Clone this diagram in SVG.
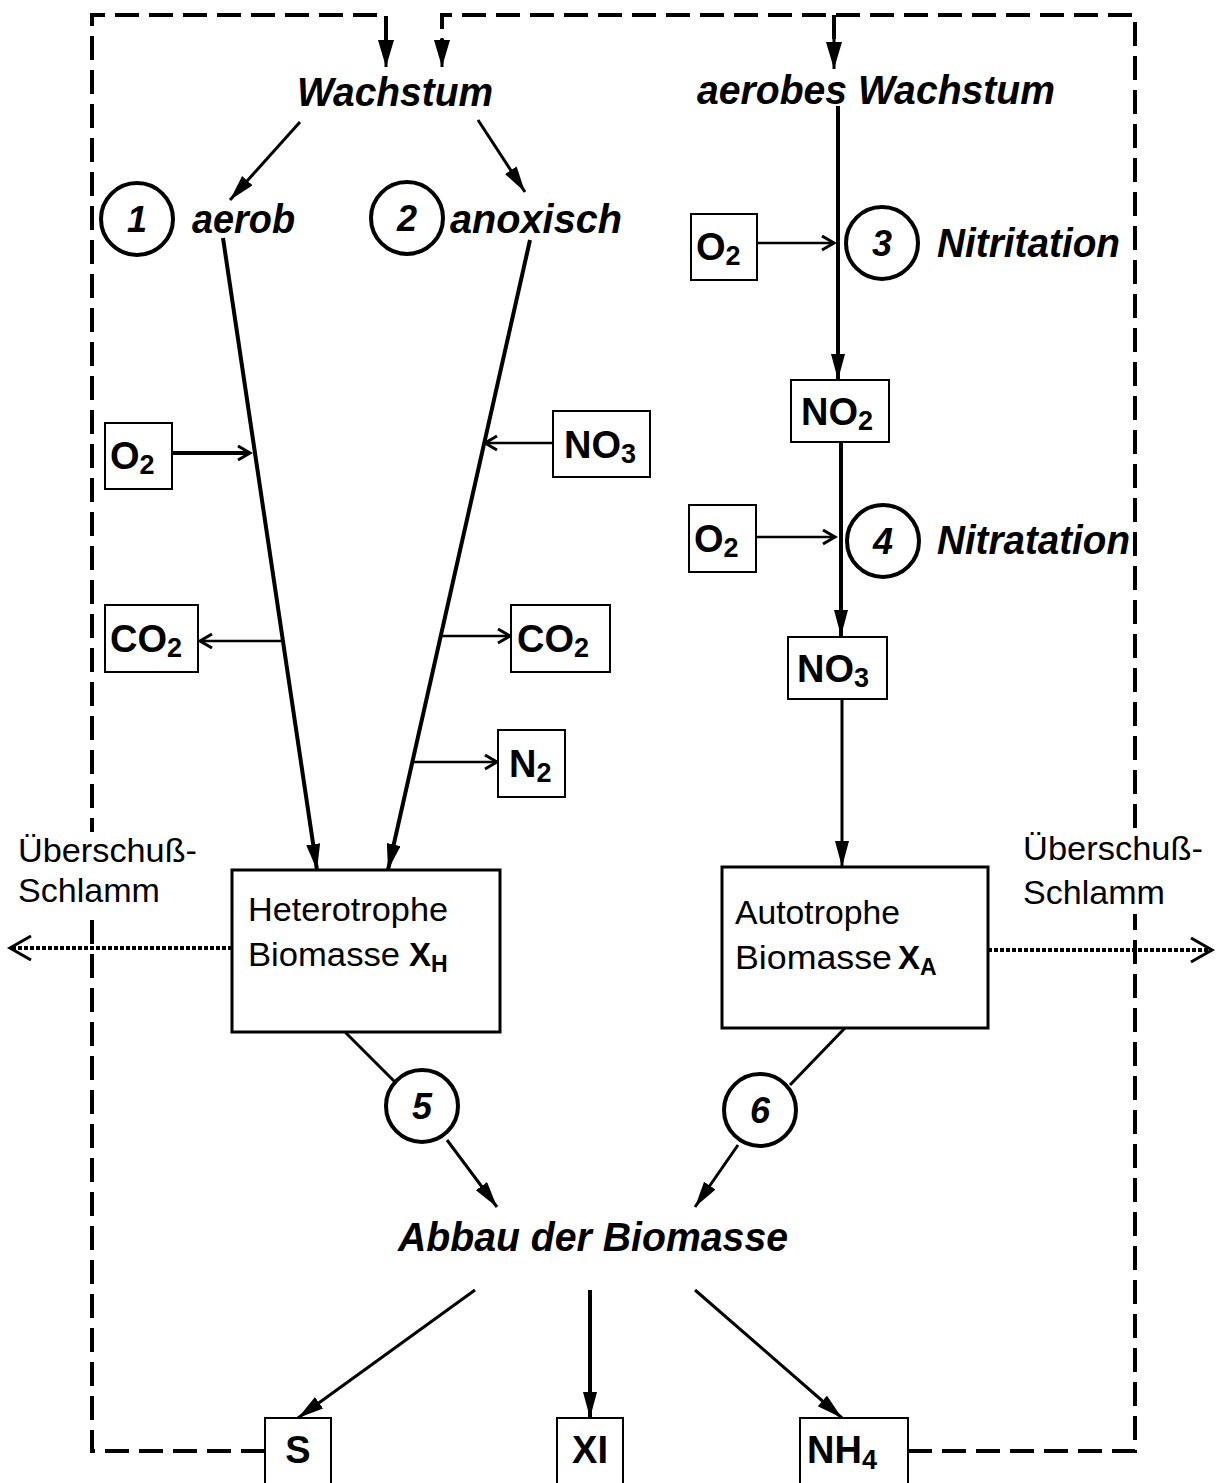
<svg xmlns="http://www.w3.org/2000/svg" width="1218" height="1483" viewBox="0 0 1218 1483">
  <style>
    .bg { fill: #ffffff; }
    .box { fill: #ffffff; stroke: #000; stroke-width: 2; }
    .bigbox { fill: #ffffff; stroke: #000; stroke-width: 3; }
    .circ { fill: #ffffff; stroke: #000; stroke-width: 4; }
    .thick { stroke: #000; stroke-width: 4; fill: none; }
    .mid { stroke: #000; stroke-width: 3; fill: none; }
    .thin { stroke: #000; stroke-width: 2.5; fill: none; }
    .dash { stroke: #000; stroke-width: 4; fill: none; stroke-dasharray: 24 10; }
    .dot { stroke: #000; stroke-width: 4; fill: none; stroke-dasharray: 4 2; }
    .lbl { font-family: "Liberation Sans", Arial, sans-serif; font-weight: bold; font-style: italic; font-size: 41px; fill: #000; }
    .num { font-family: "Liberation Sans", Arial, sans-serif; font-weight: bold; font-style: italic; font-size: 36px; fill: #000; text-anchor: middle; }
    .chem { font-family: "Liberation Sans", Arial, sans-serif; font-weight: bold; font-size: 38px; fill: #000; }
    .sub { font-size: 27px; }
    .reg { font-family: "Liberation Sans", Arial, sans-serif; font-size: 33px; fill: #000; }
    .xb { font-family: "Liberation Sans", Arial, sans-serif; font-weight: bold; font-size: 33px; fill: #000; }
    .xs { font-size: 23px; }
  </style>
  <defs>
    <marker id="solid" markerUnits="userSpaceOnUse" markerWidth="28" markerHeight="16" refX="26" refY="7" orient="auto">
      <path d="M0,0 L26,7 L0,14 z" fill="#000"/>
    </marker>
    <marker id="dhead" markerUnits="userSpaceOnUse" markerWidth="30" markerHeight="18" refX="27" refY="8" orient="auto">
      <path d="M0,0 L27,8 L0,16 z" fill="#000"/>
    </marker>
    <marker id="open" markerUnits="userSpaceOnUse" markerWidth="16" markerHeight="18" refX="13" refY="8" orient="auto">
      <path d="M1,1 L13,8 L1,15" fill="none" stroke="#000" stroke-width="3"/>
    </marker>
    <marker id="openbig" markerUnits="userSpaceOnUse" markerWidth="26" markerHeight="28" refX="22" refY="13" orient="auto">
      <path d="M1,1 L22,13 L1,25" fill="none" stroke="#000" stroke-width="3"/>
    </marker>
  </defs>

  <rect class="bg" x="0" y="0" width="1218" height="1483"/>

  <!-- connectors -->
  <g id="connectors">
    <!-- recycle loops -->
    <path class="dash" d="M265,1451 L92,1451 L92,15 L386,15 L386,40"/>
    <line x1="386" y1="38" x2="386" y2="67" stroke="#000" stroke-width="3" marker-end="url(#dhead)"/>
    <path class="dash" d="M908,1451 L1135,1451 L1135,15 L442,15 L442,40"/>
    <line x1="442" y1="38" x2="442" y2="67" stroke="#000" stroke-width="3" marker-end="url(#dhead)"/>
    <path class="dash" d="M834,15 L834,40"/>
    <line x1="834" y1="38" x2="834" y2="69" stroke="#000" stroke-width="3" marker-end="url(#dhead)"/>

    <!-- growth -->
    <line class="mid" x1="300" y1="122" x2="230" y2="200" marker-end="url(#solid)"/>
    <line class="mid" x1="478" y1="120" x2="525" y2="192" marker-end="url(#solid)"/>
    <line class="thick" x1="223" y1="238" x2="317" y2="870" marker-end="url(#solid)"/>
    <line class="thick" x1="530" y1="240" x2="388" y2="870" marker-end="url(#solid)"/>

    <!-- side flows heterotrophs -->
    <line class="thick" x1="172" y1="453" x2="250" y2="453" marker-end="url(#open)"/>
    <line class="thin" x1="282" y1="641" x2="200" y2="641" marker-end="url(#open)"/>
    <line class="thin" x1="553" y1="443" x2="485" y2="443" marker-end="url(#open)"/>
    <line class="thin" x1="441" y1="636" x2="510" y2="636" marker-end="url(#open)"/>
    <line class="thin" x1="412" y1="762" x2="497" y2="762" marker-end="url(#open)"/>

    <!-- autotrophic chain -->
    <line class="thick" x1="838" y1="106" x2="838" y2="380" marker-end="url(#solid)"/>
    <line class="thick" x1="841" y1="442" x2="841" y2="636" marker-end="url(#solid)"/>
    <line class="mid" x1="842" y1="699" x2="842" y2="867" marker-end="url(#solid)"/>
    <line class="thin" x1="757" y1="243" x2="834" y2="243" marker-end="url(#open)"/>
    <line class="thin" x1="756" y1="537" x2="835" y2="537" marker-end="url(#open)"/>

    <!-- excess sludge -->
    <line class="dot" x1="232" y1="948" x2="10" y2="948" marker-end="url(#openbig)"/>
    <line class="dot" x1="988" y1="950" x2="1212" y2="950" marker-end="url(#openbig)"/>

    <!-- decay -->
    <line class="mid" x1="345" y1="1032" x2="395" y2="1082"/>
    <line class="mid" x1="447" y1="1140" x2="497" y2="1207" marker-end="url(#solid)"/>
    <line class="mid" x1="845" y1="1028" x2="790" y2="1085"/>
    <line class="mid" x1="738" y1="1145" x2="695" y2="1207" marker-end="url(#solid)"/>
    <line class="mid" x1="475" y1="1290" x2="298" y2="1418" marker-end="url(#solid)"/>
    <line class="thick" x1="590" y1="1290" x2="590" y2="1418" marker-end="url(#solid)"/>
    <line class="mid" x1="695" y1="1290" x2="842" y2="1418" marker-end="url(#solid)"/>
  </g>

  <!-- labels -->
  <g id="wachstum"><text class="lbl" x="297" y="106" textLength="196" lengthAdjust="spacingAndGlyphs">Wachstum</text></g>
  <g id="aerobes-wachstum"><text class="lbl" x="697" y="104" textLength="358" lengthAdjust="spacingAndGlyphs">aerobes Wachstum</text></g>

  <g id="p1">
    <circle class="circ" cx="137" cy="219" r="36"/>
    <text class="num" x="137" y="232">1</text>
    <text class="lbl" x="192" y="233" textLength="103" lengthAdjust="spacingAndGlyphs">aerob</text>
  </g>
  <g id="p2">
    <circle class="circ" cx="407" cy="218" r="36"/>
    <text class="num" x="407" y="231">2</text>
    <text class="lbl" x="450" y="233" textLength="172" lengthAdjust="spacingAndGlyphs">anoxisch</text>
  </g>
  <g id="p3">
    <circle class="circ" cx="882" cy="243" r="36"/>
    <text class="num" x="882" y="256">3</text>
    <text class="lbl" x="937" y="257" textLength="183" lengthAdjust="spacingAndGlyphs">Nitritation</text>
  </g>
  <g id="p4">
    <circle class="circ" cx="883" cy="541" r="36"/>
    <text class="num" x="883" y="554">4</text>
    <text class="lbl" x="937" y="554" textLength="193" lengthAdjust="spacingAndGlyphs">Nitratation</text>
  </g>
  <g id="p5">
    <circle class="circ" cx="422" cy="1106" r="36"/>
    <text class="num" x="422" y="1119">5</text>
  </g>
  <g id="p6">
    <circle class="circ" cx="760" cy="1110" r="36"/>
    <text class="num" x="760" y="1123">6</text>
  </g>
  <g id="abbau"><text class="lbl" x="398" y="1251" textLength="390" lengthAdjust="spacingAndGlyphs">Abbau der Biomasse</text></g>

  <!-- substance boxes -->
  <g id="o2-a">
    <rect class="box" x="105" y="423" width="67" height="66"/>
    <text class="chem" x="110" y="469">O<tspan class="sub" dy="5">2</tspan></text>
  </g>
  <g id="co2-a">
    <rect class="box" x="105" y="605" width="93" height="67"/>
    <text class="chem" x="110" y="652">CO<tspan class="sub" dy="5">2</tspan></text>
  </g>
  <g id="no3-a">
    <rect class="box" x="553" y="411" width="97" height="66"/>
    <text class="chem" x="564" y="458">NO<tspan class="sub" dy="5">3</tspan></text>
  </g>
  <g id="co2-b">
    <rect class="box" x="511" y="605" width="99" height="67"/>
    <text class="chem" x="517" y="652">CO<tspan class="sub" dy="5">2</tspan></text>
  </g>
  <g id="n2">
    <rect class="box" x="498" y="730" width="67" height="67"/>
    <text class="chem" x="509" y="777">N<tspan class="sub" dy="5">2</tspan></text>
  </g>
  <g id="o2-b">
    <rect class="box" x="691" y="214" width="66" height="66"/>
    <text class="chem" x="696" y="260">O<tspan class="sub" dy="5">2</tspan></text>
  </g>
  <g id="no2">
    <rect class="box" x="791" y="380" width="98" height="62"/>
    <text class="chem" x="801" y="425">NO<tspan class="sub" dy="5">2</tspan></text>
  </g>
  <g id="o2-c">
    <rect class="box" x="689" y="505" width="67" height="67"/>
    <text class="chem" x="694" y="552">O<tspan class="sub" dy="5">2</tspan></text>
  </g>
  <g id="no3-b">
    <rect class="box" x="788" y="637" width="99" height="62"/>
    <text class="chem" x="797" y="682">NO<tspan class="sub" dy="5">3</tspan></text>
  </g>

  <!-- biomass boxes -->
  <g id="xh">
    <rect class="bigbox" x="232" y="870" width="268" height="162"/>
    <text class="reg" x="248" y="921" textLength="200" lengthAdjust="spacingAndGlyphs">Heterotrophe</text>
    <text class="reg" x="248" y="966" textLength="152" lengthAdjust="spacingAndGlyphs">Biomasse</text>
    <text class="xb" x="409" y="966">X<tspan class="xs" dy="6">H</tspan></text>
  </g>
  <g id="xa">
    <rect class="bigbox" x="722" y="867" width="266" height="161"/>
    <text class="reg" x="735" y="924" textLength="165" lengthAdjust="spacingAndGlyphs">Autotrophe</text>
    <text class="reg" x="735" y="969" textLength="157" lengthAdjust="spacingAndGlyphs">Biomasse</text>
    <text class="xb" x="898" y="969">X<tspan class="xs" dy="6">A</tspan></text>
  </g>

  <!-- excess sludge labels, on a white ground over the loop line -->
  <g id="sludge-left">
    <rect x="14" y="832" width="188" height="80" fill="#fff"/>
    <text class="reg" x="18" y="862" textLength="179" lengthAdjust="spacingAndGlyphs">Überschuß-</text>
    <text class="reg" x="18" y="902" textLength="142" lengthAdjust="spacingAndGlyphs">Schlamm</text>
  </g>
  <g id="sludge-right">
    <rect x="1019" y="830" width="190" height="84" fill="#fff"/>
    <text class="reg" x="1023" y="860" textLength="180" lengthAdjust="spacingAndGlyphs">Überschuß-</text>
    <text class="reg" x="1023" y="904" textLength="142" lengthAdjust="spacingAndGlyphs">Schlamm</text>
  </g>

  <!-- products -->
  <g id="s">
    <rect class="box" x="265" y="1418" width="66" height="80"/>
    <text class="chem" x="298" y="1463" text-anchor="middle">S</text>
  </g>
  <g id="xi">
    <rect class="box" x="557" y="1418" width="66" height="80"/>
    <text class="chem" x="590" y="1463" text-anchor="middle">XI</text>
  </g>
  <g id="nh4">
    <rect class="box" x="800" y="1418" width="108" height="80"/>
    <text class="chem" x="807" y="1463">NH<tspan class="sub" dy="6">4</tspan></text>
  </g>
</svg>
